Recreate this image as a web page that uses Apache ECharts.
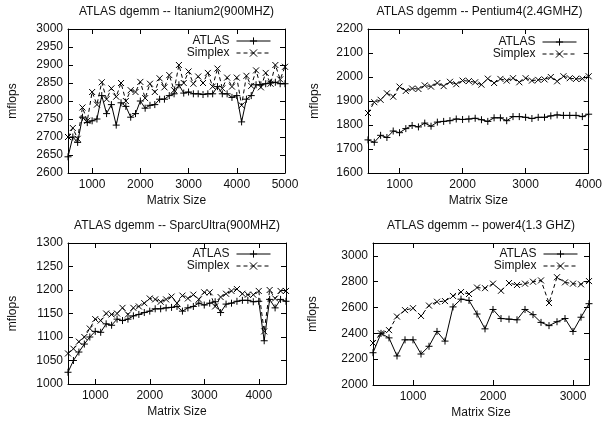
<!DOCTYPE html>
<html>
<head>
  <meta charset="utf-8">
  <script src="https://cdn.jsdelivr.net/npm/echarts@6/dist/echarts.min.js"></script>
  <style>
    html, body { margin: 0; padding: 0; background: #fff; }
  </style>
</head>
<body>
  <div id="main" style="width: 605px;height:423px;"></div>
  <script type="text/javascript">
    // matrix sizes (shared x values, each plot uses the first n of them)
    var matrixSizes = [500, 600, 700, 800, 900, 1000, 1100, 1200, 1300, 1400, 1500, 1600, 1700, 1800, 1900,
      2000, 2100, 2200, 2300, 2400, 2500, 2600, 2700, 2800, 2900, 3000, 3100, 3200, 3300, 3400, 3500,
      3600, 3700, 3800, 3900, 4000, 4100, 4200, 4300, 4400, 4500, 4600, 4700, 4800, 4900, 5000];

    // Itanium2(900MHZ)
    var itaniumAtlas = [2645, 2700, 2685, 2755, 2740, 2745, 2750, 2815, 2765, 2790, 2733, 2795, 2785, 2755, 2765,
      2800, 2780, 2788, 2790, 2805, 2805, 2815, 2820, 2845, 2822, 2825, 2820, 2820, 2818, 2820, 2820,
      2840, 2820, 2820, 2810, 2815, 2742, 2805, 2815, 2845, 2845, 2848, 2850, 2852, 2848, 2848];
    var itaniumSimplex = [2700, 2725, 2695, 2782, 2745, 2825, 2790, 2852, 2805, 2835, 2812, 2850, 2800, 2830, 2825,
      2853, 2808, 2848, 2825, 2863, 2838, 2872, 2830, 2900, 2850, 2882, 2848, 2868, 2850, 2878, 2840,
      2890, 2835, 2865, 2840, 2865, 2788, 2870, 2842, 2885, 2838, 2878, 2848, 2900, 2860, 2895];

    // Pentium4(2.4GMHZ)
    var pentiumAtlas = [1738, 1728, 1757, 1748, 1775, 1768, 1785, 1798, 1792, 1808, 1795, 1812, 1815, 1818, 1825,
      1823, 1825, 1828, 1822, 1815, 1830, 1830, 1818, 1835, 1835, 1832, 1827, 1832, 1832, 1838, 1842,
      1840, 1840, 1840, 1835, 1845];
    var pentiumSimplex = [1850, 1895, 1905, 1932, 1918, 1960, 1942, 1952, 1950, 1965, 1960, 1975, 1962, 1980, 1970,
      1985, 1983, 1978, 1968, 1993, 1975, 1992, 1985, 1995, 1978, 1995, 1985, 1988, 1990, 2000, 1982,
      2003, 1995, 1992, 1993, 2003];

    // SparcUltra(900MHZ)
    var sparcAtlas = [1025, 1050, 1068, 1085, 1100, 1112, 1110, 1128, 1125, 1138, 1135, 1138, 1145, 1148, 1152,
      1155, 1160, 1160, 1162, 1163, 1165, 1155, 1162, 1165, 1172, 1168, 1172, 1175, 1152, 1170, 1172,
      1176, 1178, 1178, 1175, 1176, 1092, 1180, 1162, 1180, 1176];
    var sparcSimplex = [1065, 1075, 1090, 1100, 1118, 1138, 1135, 1150, 1148, 1150, 1162, 1148, 1162, 1165, 1172,
      1182, 1180, 1175, 1180, 1186, 1172, 1188, 1182, 1190, 1180, 1195, 1195, 1165, 1185, 1192, 1198,
      1202, 1192, 1190, 1190, 1198, 1112, 1200, 1182, 1198, 1198];

    // power4(1.3 GHZ)
    var powerAtlas = [2250, 2400, 2365, 2225, 2350, 2350, 2240, 2300, 2415, 2340, 2605, 2665, 2655, 2550, 2435,
      2585, 2515, 2510, 2505, 2585, 2545, 2485, 2460, 2490, 2515, 2415, 2525, 2630];
    var powerSimplex = [2325, 2400, 2425, 2530, 2580, 2595, 2535, 2615, 2645, 2650, 2690, 2720, 2705, 2755, 2750,
      2785, 2730, 2790, 2775, 2785, 2800, 2810, 2635, 2835, 2795, 2785, 2780, 2805];

    // tick labels
    var xTicks5000 = [1000, 2000, 3000, 4000, 5000];
    var xTicks4000 = [1000, 2000, 3000, 4000];
    var xTicks3000 = [1000, 2000, 3000];
    var yTicksItanium = [2600, 2650, 2700, 2750, 2800, 2850, 2900, 2950, 3000];
    var yTicksPentium = [1600, 1700, 1800, 1900, 2000, 2100, 2200];
    var yTicksSparc = [1000, 1050, 1100, 1150, 1200, 1250, 1300];
    var yTicksPower = [2000, 2200, 2400, 2600, 2800, 3000];

    var FONT = 'Liberation Sans';
    var TXT = '#111';

    var plots = [
      { title: 'ATLAS dgemm -- Itanium2(900MHZ)', titleTop: 6, grid: [68, 29, 217, 144], xMax: 5000, xTicks: xTicks5000,
        yMin: 2600, yMax: 3000, yTicks: yTicksItanium, atlas: itaniumAtlas, simplex: itaniumSimplex,
        yGap: 49, legend: [334, 35] },
      { title: 'ATLAS dgemm -- Pentium4(2.4GMHZ)', titleTop: 6, grid: [368, 29, 223, 144], xMax: 4000, xTicks: xTicks4000,
        yMin: 1600, yMax: 2200, yTicks: yTicksPentium, atlas: pentiumAtlas, simplex: pentiumSimplex,
        yGap: 47, legend: [28, 36] },
      { title: 'ATLAS dgemm -- SparcUltra(900MHZ)', titleTop: 220, grid: [68, 243, 218, 141], xMax: 4500, xTicks: xTicks4000,
        yMin: 1000, yMax: 1300, yTicks: yTicksSparc, atlas: sparcAtlas, simplex: sparcSimplex,
        yGap: 49, legend: [334, 248] },
      { title: 'ATLAS dgemm -- power4(1.3 GHZ)', titleTop: 220, grid: [373, 243, 216, 142], xMax: 3200, xTicks: xTicks3000,
        yMin: 2000, yMax: 3100, yTicks: yTicksPower, atlas: powerAtlas, simplex: powerSimplex,
        yGap: 54, legend: [27, 248] }
    ];

    var plusPath = 'path://M5,0L5,10M0,5L10,5';
    var crossPath = 'path://M0,0L10,10M10,0L0,10';

    function pairs(values) {
      var out = [];
      for (var i = 0; i < values.length; i++) out.push([matrixSizes[i], values[i]]);
      return out;
    }

    function plain(v) { return String(v); }

    var option = {
      animation: false,
      backgroundColor: '#fff',
      textStyle: { fontFamily: FONT },
      title: [], grid: [], xAxis: [], yAxis: [], legend: [], series: []
    };

    var lineAxis = { show: true, onZero: false, lineStyle: { color: '#000', width: 1 } };

    plots.forEach(function (p, i) {
      var g = p.grid;
      option.grid.push({ left: g[0], top: g[1], width: g[2], height: g[3] });
      option.title.push({
        text: p.title, left: g[0] + g[2] / 2, top: p.titleTop, textAlign: 'center', padding: 0,
        textStyle: { fontFamily: FONT, fontSize: 12, fontWeight: 'normal', color: TXT }
      });
      // bottom / left axes
      option.xAxis.push({
        type: 'value', gridIndex: i, min: 500, max: p.xMax, position: 'bottom',
        axisLine: lineAxis,
        axisTick: { inside: true, length: 5, customValues: p.xTicks, lineStyle: { color: '#000' } },
        axisLabel: { customValues: p.xTicks, formatter: plain, margin: 6, fontSize: 12, color: TXT, fontFamily: FONT },
        splitLine: { show: false },
        name: 'Matrix Size', nameLocation: 'middle', nameGap: 22,
        nameTextStyle: { fontSize: 12, color: TXT, fontFamily: FONT }
      });
      option.yAxis.push({
        type: 'value', gridIndex: i, min: p.yMin, max: p.yMax, position: 'left',
        axisLine: lineAxis,
        axisTick: { inside: true, length: 5, customValues: p.yTicks, lineStyle: { color: '#000' } },
        axisLabel: { customValues: p.yTicks, formatter: plain, margin: 5, fontSize: 12, color: TXT, fontFamily: FONT },
        splitLine: { show: false },
        name: 'mflops', nameLocation: 'middle', nameGap: p.yGap, nameRotate: 90,
        nameTextStyle: { fontSize: 12, color: TXT, fontFamily: FONT }
      });
      option.legend.push({
        data: ['ATLAS', 'Simplex'], orient: 'vertical', align: 'right',
        right: p.legend[0], top: p.legend[1], padding: 0, itemGap: 0,
        itemWidth: 34, itemHeight: 9,
        itemStyle: { color: 'transparent', borderColor: '#000', borderWidth: 1 },
        lineStyle: { width: 1 },
        textStyle: { fontSize: 12, color: TXT, fontFamily: FONT, padding: [0, 2, 0, 0] },
        selectedMode: false
      });
      option.series.push({
        name: 'ATLAS', type: 'line', xAxisIndex: i, yAxisIndex: i,
        data: pairs(p.atlas), symbol: plusPath, symbolSize: 7,
        itemStyle: { color: 'transparent', borderColor: '#000', borderWidth: 1 },
        lineStyle: { color: '#000', width: 1 }
      });
      option.series.push({
        name: 'Simplex', type: 'line', xAxisIndex: i, yAxisIndex: i,
        data: pairs(p.simplex), symbol: crossPath, symbolSize: 6,
        itemStyle: { color: 'transparent', borderColor: '#000', borderWidth: 1 },
        lineStyle: { color: '#000', width: 1, type: [4, 3] }
      });
    });

    // mirrored top / right axes (ticks only, like gnuplot's border)
    plots.forEach(function (p, i) {
      option.xAxis.push({
        type: 'value', gridIndex: i, min: 500, max: p.xMax, position: 'top',
        axisLine: lineAxis,
        axisTick: { inside: true, length: 5, customValues: p.xTicks, lineStyle: { color: '#000' } },
        axisLabel: { show: false }, splitLine: { show: false }
      });
      option.yAxis.push({
        type: 'value', gridIndex: i, min: p.yMin, max: p.yMax, position: 'right',
        axisLine: lineAxis,
        axisTick: { inside: true, length: 5, customValues: p.yTicks, lineStyle: { color: '#000' } },
        axisLabel: { show: false }, splitLine: { show: false }
      });
    });

    var chart = echarts.init(document.getElementById('main'));
    chart.setOption(option);
  </script>
</body>
</html>
